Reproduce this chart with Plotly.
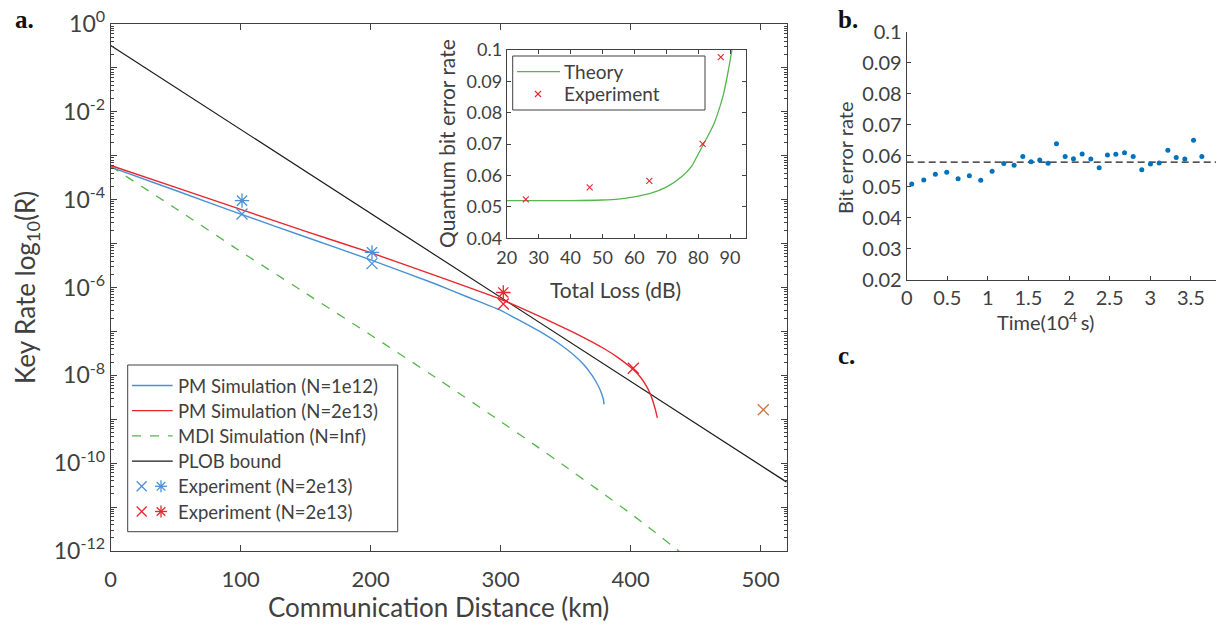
import plotly.graph_objects as go

W, H = 1228, 631
FONT = "Lato"
TXT = "#404040"
AX = "#404040"

# ---------------- Panel a: key rate vs distance ----------------
dist_pm_1e12 = [0, 50, 100, 150, 200, 250, 275, 300, 312, 330, 345, 356, 364, 370, 374, 377, 379, 379.5]
rate_pm_1e12 = [5.5e-4, 1.62e-4, 4.68e-5, 1.41e-5, 4.27e-6, 1.20e-6, 6.0e-7, 3.02e-7, 1.95e-7,
                1.0e-7, 5.25e-8, 2.95e-8, 1.74e-8, 1.02e-8, 6.6e-9, 4.27e-9, 2.82e-9, 2.19e-9]

dist_pm_2e13 = [0, 50, 100, 150, 200, 250, 300, 330, 356, 380, 390, 402, 408, 412, 415, 417, 419, 420.5]
rate_pm_2e13 = [6.0e-4, 1.9e-4, 6.0e-5, 1.9e-5, 6.2e-6, 1.86e-6, 5.4e-7, 2.19e-7, 9.5e-8,
                3.98e-8, 2.57e-8, 1.35e-8, 8.7e-9, 5.75e-9, 3.8e-9, 2.63e-9, 1.66e-9, 1.07e-9]

dist_mdi = [0, 50, 100, 150, 200, 250, 300, 325, 350, 375, 400, 415, 437, 445]
rate_mdi = [5.75e-4, 6.3e-5, 6.6e-6, 7.4e-7, 8.3e-8, 8.9e-9, 8.9e-10, 2.75e-10, 8.3e-11,
            2.45e-11, 7.1e-12, 3.24e-12, 1.0e-12, 6.5e-13]

dist_plob = [0, 520]
rate_plob = [3.24e-1, 3.7e-11]

exp_blue_x_dist = [101, 201]
exp_blue_x_rate = [4.7e-5, 3.5e-6]
exp_blue_star_dist = [101, 201]
exp_blue_star_rate = [9.5e-5, 6.3e-6]
exp_red_x_dist = [302, 402]
exp_red_x_rate = [4.2e-7, 1.45e-8]
exp_red_star_dist = [302]
exp_red_star_rate = [7.7e-7]
exp_orange_dist = [502]
exp_orange_rate = [1.65e-9]

# ---------------- Inset: QBER vs total loss ----------------
loss_theory = [20, 30, 40, 50, 55, 60, 65, 70, 75, 78, 80, 83, 85, 87, 88, 89, 90, 90.6]
qber_theory = [0.0520, 0.0520, 0.0520, 0.0522, 0.0525, 0.0532, 0.0543, 0.0563, 0.0598, 0.0630,
               0.0668, 0.0725, 0.0766, 0.0825, 0.0862, 0.0910, 0.0965, 0.1000]
loss_exp = [26, 46, 64.7, 81.4, 87.1]
qber_exp = [0.0524, 0.0562, 0.0583, 0.0701, 0.0977]

# ---------------- Panel b: bit error rate vs time ----------------
time_1e4s = [0.062, 0.21, 0.353, 0.493, 0.633, 0.772, 0.912, 1.052, 1.196, 1.323, 1.43, 1.532,
             1.639, 1.742, 1.845, 1.952, 2.054, 2.161, 2.268, 2.371, 2.473, 2.576, 2.683, 2.79,
             2.896, 3.003, 3.11, 3.217, 3.32, 3.426, 3.533, 3.636]
ber = [0.0509, 0.0522, 0.0541, 0.0547, 0.0526, 0.0536, 0.0521, 0.0550, 0.0575, 0.0570, 0.0598,
       0.0581, 0.0587, 0.0576, 0.0639, 0.0598, 0.0591, 0.0606, 0.0590, 0.0562, 0.0603, 0.0605,
       0.0610, 0.0598, 0.0555, 0.0574, 0.0577, 0.0618, 0.0595, 0.0590, 0.0650, 0.0598]
ber_mean = 0.058
time_range = [0, 3.81]

BLUE = "#4A90D4"
RED = "#E8262E"
GREEN = "#55B64B"
ORANGE = "#D2733A"
DOT = "#0072BD"


def fx(p):
    return p / W


def fy(p):
    return 1 - p / H


fig = go.Figure()
main = dict(xaxis="x", yaxis="y", showlegend=False)
fig.add_trace(go.Scatter(x=dist_mdi, y=rate_mdi, mode="lines",
                         line=dict(color=GREEN, width=1.3, dash="dash", shape="spline", smoothing=0.3), **main))
fig.add_trace(go.Scatter(x=dist_plob, y=rate_plob, mode="lines", line=dict(color="#1a1a1a", width=1.2), **main))
fig.add_trace(go.Scatter(x=dist_pm_1e12, y=rate_pm_1e12, mode="lines",
                         line=dict(color=BLUE, width=1.4, shape="spline", smoothing=0.3), **main))
fig.add_trace(go.Scatter(x=dist_pm_2e13, y=rate_pm_2e13, mode="lines",
                         line=dict(color=RED, width=1.4, shape="spline", smoothing=0.3), **main))


def mk(symbol, size, color, width=1.3):
    return dict(symbol=symbol, size=size, color=color, line=dict(color=color, width=width))


fig.add_trace(go.Scatter(x=exp_blue_x_dist, y=exp_blue_x_rate, mode="markers", marker=mk("x-thin-open", 11, BLUE), **main))
fig.add_trace(go.Scatter(x=exp_blue_star_dist, y=exp_blue_star_rate, mode="markers", marker=mk("asterisk-open", 12, BLUE), **main))
fig.add_trace(go.Scatter(x=exp_red_x_dist, y=exp_red_x_rate, mode="markers", marker=mk("x-thin-open", 11, RED), **main))
fig.add_trace(go.Scatter(x=exp_red_star_dist, y=exp_red_star_rate, mode="markers", marker=mk("asterisk-open", 12, RED), **main))
fig.add_trace(go.Scatter(x=exp_orange_dist, y=exp_orange_rate, mode="markers", marker=mk("x-thin-open", 11, ORANGE), **main))

ins = dict(xaxis="x2", yaxis="y2", showlegend=False)
fig.add_trace(go.Scatter(x=loss_theory, y=qber_theory, mode="lines",
                         line=dict(color=GREEN, width=1.3, shape="spline", smoothing=0.6), **ins))
fig.add_trace(go.Scatter(x=loss_exp, y=qber_exp, mode="markers", marker=mk("x-thin-open", 6, RED, 1.1), **ins))

pb = dict(xaxis="x3", yaxis="y3", showlegend=False)
fig.add_trace(go.Scatter(x=time_range, y=[ber_mean, ber_mean], mode="lines",
                         line=dict(color="#1a1a1a", width=1.2, dash="7px,4px"), **pb))
fig.add_trace(go.Scatter(x=time_1e4s, y=ber, mode="markers", marker=dict(color=DOT, size=5), **pb))

# ---- axes ----
tickfont_main = dict(family=FONT, size=23, color=TXT)
exps = list(range(0, 13))
ytv = [10.0 ** (-k) for k in exps]
ytt = [("10<sup>%d</sup>" % (-k)) if k % 2 == 0 else "" for k in exps]
minor_vals = [m * 10.0 ** (-k) for k in range(1, 13) for m in range(2, 10)]

common = dict(showline=True, linecolor=AX, linewidth=1, ticks="inside", tickcolor=AX,
              showgrid=False, zeroline=False, automargin=False)

fig.update_layout(
    width=W, height=H, template="none",
    margin=dict(l=0, r=0, t=0, b=0),
    paper_bgcolor="white", plot_bgcolor="rgba(0,0,0,0)",
    xaxis=dict(domain=[fx(110.7), fx(786.7)], range=[0, 520], tickvals=[0, 100, 200, 300, 400, 500],
               ticklen=6, mirror="ticks", ticklabelstandoff=9,
               tickfont=dict(family=FONT, size=22, color=TXT), **common),
    yaxis=dict(domain=[fy(551), fy(24)], type="log", range=[-12, 0], tickvals=ytv, ticktext=ytt,
               ticklen=6, mirror="ticks", tickfont=tickfont_main,
               minor=dict(tickvals=minor_vals, ticks="inside", ticklen=3, tickcolor=AX), **common),
    xaxis2=dict(domain=[fx(506.7), fx(746)], range=[20, 95], tickvals=[20, 30, 40, 50, 60, 70, 80, 90],
                anchor="y2", ticklen=4, mirror="ticks", ticklabelstandoff=3,
                tickfont=dict(family=FONT, size=18, color=TXT), **common),
    yaxis2=dict(domain=[fy(238.3), fy(50)], range=[0.04, 0.1], anchor="x2",
                tickvals=[0.04, 0.05, 0.06, 0.07, 0.08, 0.09, 0.1],
                ticktext=["0.04", "0.05", "0.06", "0.07", "0.08", "0.09", "0.1"],
                ticklen=4, mirror="ticks", tickfont=dict(family=FONT, size=18, color=TXT), **common),
    xaxis3=dict(domain=[fx(906.7), fx(1216)], range=time_range, anchor="y3",
                tickvals=[0, 0.5, 1, 1.5, 2, 2.5, 3, 3.5],
                ticktext=["0", "0.5", "1", "1.5", "2", "2.5", "3", "3.5"],
                ticklen=4, tickfont=dict(family=FONT, size=20, color=TXT), **common),
    yaxis3=dict(domain=[fy(280), fy(31.7)], range=[0.02, 0.1], anchor="x3",
                tickvals=[0.02, 0.03, 0.04, 0.05, 0.06, 0.07, 0.08, 0.09, 0.1],
                ticktext=["0.02", "0.03", "0.04", "0.05", "0.06", "0.07", "0.08", "0.09", "0.1"],
                ticklen=4, tickfont=dict(family=FONT, size=20, color=TXT), **common),
)

shapes = []
annotations = []


def line_shape(x0, y0, x1, y1, color, width=1.3, dash="solid"):
    shapes.append(dict(type="line", xref="paper", yref="paper", x0=fx(x0), y0=fy(y0), x1=fx(x1), y1=fy(y1),
                       line=dict(color=color, width=width, dash=dash)))


def x_glyph(cx, cy, r, color, width=1.3):
    line_shape(cx - r, cy - r, cx + r, cy + r, color, width)
    line_shape(cx - r, cy + r, cx + r, cy - r, color, width)


def star_glyph(cx, cy, r, color, width=1.3):
    line_shape(cx - r, cy, cx + r, cy, color, width)
    line_shape(cx, cy - r, cx, cy + r, color, width)
    d = r * 0.72
    line_shape(cx - d, cy - d, cx + d, cy + d, color, width)
    line_shape(cx - d, cy + d, cx + d, cy - d, color, width)


def text(x, y, s, size, xanchor="left", angle=0, family=FONT, color=TXT):
    annotations.append(dict(x=fx(x), y=fy(y), xref="paper", yref="paper", text=s, showarrow=False,
                            xanchor=xanchor, yanchor="middle", textangle=angle,
                            font=dict(family=family, size=size, color=color)))


# main legend
shapes.append(dict(type="rect", xref="paper", yref="paper", x0=fx(127.7), x1=fx(397.7), y0=fy(531.7), y1=fy(365),
                   line=dict(color=AX, width=1), fillcolor="white"))
rows = [385.5, 410.7, 435.9, 461.1, 486.3, 511.5]
legend_labels = ["PM Simulation (N=1e12)", "PM Simulation (N=2e13)", "MDI Simulation (N=Inf)",
                 "PLOB bound", "Experiment (N=2e13)", "Experiment (N=2e13)"]
line_shape(132, rows[0], 172.7, rows[0], BLUE)
line_shape(132, rows[1], 172.7, rows[1], RED)
line_shape(132, rows[2], 172.7, rows[2], GREEN, dash="dash")
line_shape(132, rows[3], 172.7, rows[3], "#1a1a1a", 1.2)
x_glyph(141.7, rows[4], 5, BLUE)
star_glyph(161, rows[4], 6, BLUE)
x_glyph(141.7, rows[5], 5, RED)
star_glyph(161, rows[5], 6, RED)
for r, lab in zip(rows, legend_labels):
    text(176, r, lab, 18.5)

# inset legend
shapes.append(dict(type="rect", xref="paper", yref="paper", x0=fx(512.7), x1=fx(705), y0=fy(110), y1=fy(56),
                   line=dict(color=AX, width=1), fillcolor="white"))
line_shape(517, 71.7, 560, 71.7, GREEN)
x_glyph(538, 94, 3, RED, 1.1)
text(562, 71.7, "Theory", 19)
text(562, 94, "Experiment", 19)

# titles
text(438, 607, "Communication Distance (km)", 26, xanchor="center")
text(26, 288, "Key Rate log<sub>10</sub>(R)", 26, xanchor="center", angle=-90)
text(615, 289, "Total Loss (dB)", 21, xanchor="center")
text(447, 144, "Quantum bit error rate", 21, xanchor="center", angle=-90)
text(845, 158, "Bit error rate", 20, xanchor="center", angle=-90)
text(1045, 321, "Time(10<sup>4 </sup>s)", 20, xanchor="center")

# panel labels
text(13, 19, "<b>a.</b>", 25, family="Liberation Serif", color="#111111")
text(836, 19, "<b>b.</b>", 25, family="Liberation Serif", color="#111111")
text(836, 356, "<b>c.</b>", 25, family="Liberation Serif", color="#111111")

fig.update_layout(shapes=shapes, annotations=annotations)
fig.write_html("out.html", config={"displayModeBar": False},
               post_script="document.body.style.margin='0px';document.body.style.padding='0px';")
